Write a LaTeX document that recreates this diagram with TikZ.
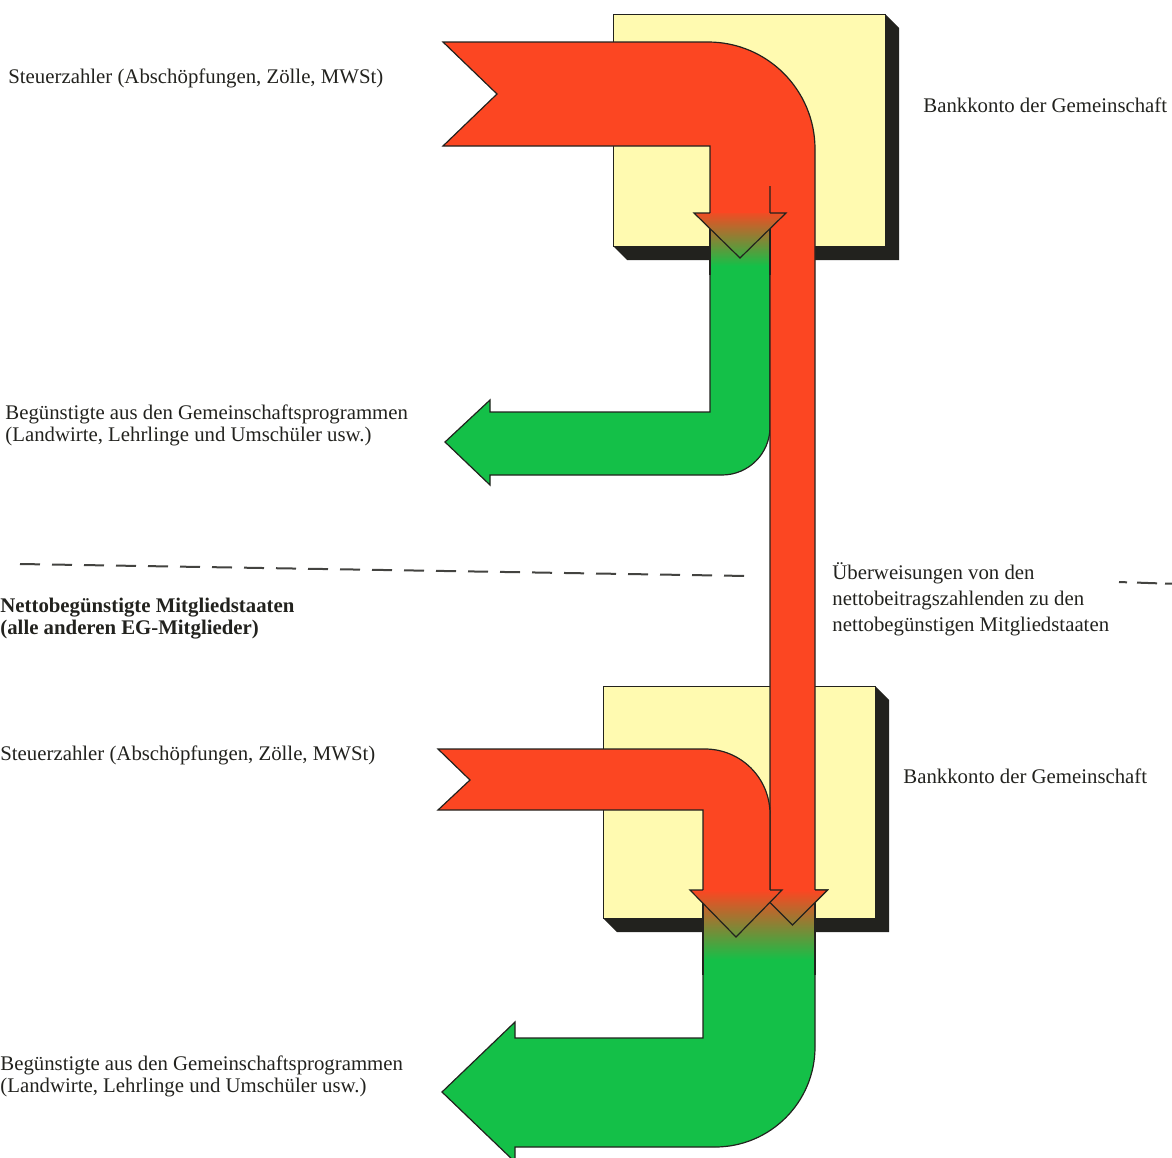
\documentclass[tikz,border=0pt]{standalone}
\usepackage{fontspec}
\setmainfont{Liberation Serif}
\usepackage{xcolor}
\definecolor{flowred}{RGB}{252,70,34}
\definecolor{flowgreen}{RGB}{20,192,72}
\definecolor{boxyellow}{RGB}{255,250,176}
\definecolor{fadegray}{RGB}{214,204,184}
\definecolor{inkdark}{RGB}{34,34,30}
\usepackage{tikz}
\usetikzlibrary{positioning}
\tikzset{fade/.style={
  top color=flowred, middle color=fadegray, bottom color=flowgreen
}}

\begin{document}
\begin{tikzpicture}[x=0.5pt, y=-0.5pt,
    outline/.style={draw=inkdark, line width=0.6pt, line join=miter},
    redflow/.style={fill=flowred},
    greenflow/.style={fill=flowgreen},
    bankbox/.style={fill=boxyellow, draw=inkdark, line width=0.5pt},
    boxshadow/.style={fill=inkdark},
    divider/.style={draw=inkdark!85, line width=1pt},
    caption/.style={font=\fontsize{10.4}{11}\selectfont, text=inkdark,
      inner sep=0pt, anchor=base west, align=left}]
    \def\shadowLen{14}
    \useasboundingbox (0,0) rectangle (1172,1157);
    \clip (0,0) rectangle (1172,1157);

    % bank accounts
    \fill [boxshadow] (613,246) -- +(\shadowLen,\shadowLen) -- %
    (885+\shadowLen,246+\shadowLen) -- (885+\shadowLen,14+\shadowLen) -- (885,14) -- cycle;
    \draw [bankbox] (613,14) rectangle (885,246);
    \fill [boxshadow] (603,918) -- +(\shadowLen,\shadowLen) -- %
    (875+\shadowLen,918+\shadowLen) -- (875+\shadowLen,686+\shadowLen) -- (875,686) -- cycle;
    \draw [bankbox] (603,686) rectangle (875,918);

    % outgoing flows
    \draw [greenflow, outline] (710,213) -- (710,412) -- (490,412) -- (490,400) -- %
    (445,442) -- (490,485) -- (490,475) -- (722,475) %
    arc [start angle=90, end angle=0, radius=48] -- (770,213) -- cycle;
    \draw [greenflow, outline] (703,890) -- (703,1038) -- (515,1038) -- (515,1022) -- %
    (442,1092) -- (515,1162) -- (515,1147) -- (715,1147) %
    arc [start angle=90, end angle=0, radius=100] -- (815,890) -- cycle;

    % incoming flows and the transfer
    \fill [redflow] (443,42) -- (708,42) arc [start angle=-90, end angle=0, radius=107] -- %
    (815,890) -- (827.5,890) -- (792.5,925) -- (757.5,890) -- (770,890) -- %
    (770,213) -- (710,213) -- (710,146) -- (443,146) -- (497,94) -- cycle;
    \draw [outline] (710,213) -- (710,146) -- (443,146) -- (497,94) -- (443,42) -- %
    (708,42) arc [start angle=-90, end angle=0, radius=107] -- (815,890) -- %
    (827.5,890) -- (792.5,925) -- (757.5,890) -- (770,890) -- (770,186);
    \fill [redflow] (438,749) -- (705,749) arc [start angle=-90, end angle=0, radius=65] -- %
    (770,890) -- (703,890) -- (703,810) -- (438,810) -- (470,780) -- cycle;
    \draw [outline] (703,890) -- (703,810) -- (438,810) -- (470,780) -- (438,749) -- %
    (705,749) arc [start angle=-90, end angle=0, radius=65] -- (770,890);

    % red turns into green
    \begin{scope}
      \clip (694,213) -- (786,213) -- (770,228.65) -- (770,275) -- (710,275) -- (710,228.65) -- cycle;
      \shade [fade] (690,210) rectangle (790,266);
    \end{scope}
    \draw [outline] (710,213) -- (694,213) -- (740,258) -- (786,213) -- (770,213);
    \draw [outline] (710,228.65) -- (710,275) (770,228.65) -- (770,275);

    \begin{scope}
      \clip (690,890) -- (827.5,890) -- (815,902.5) -- (815,975) -- (703,975) -- (703,903.3) -- cycle;
      \shade [fade] (685,890) rectangle (830,960);
    \end{scope}
    \draw [outline] (703,903.3) -- (703,975) (815,902.5) -- (815,975);
    \draw [outline] (815,890) -- (827.5,890) -- (792.5,925) -- %
    (intersection of 792.5,925--757.5,890 and 782,890--736,937);
    \draw [outline] (703,890) -- (690,890) -- (736,937) -- (782,890) -- (770,890);

    % dashed divider
    \foreach \i [evaluate={\xa=20+32*\i; \xb=\xa+20;
        \ya=564+(\xa-20)*12/728; \yb=564+(\xb-20)*12/728;}] in {0,...,22}
      \draw [divider] (\xa,\ya) -- (\xb,\yb);
    \draw [divider] (1119,582) -- (1127,582.3) (1137,582.6) -- (1157,583.3) (1165,583.5) -- (1172,583.7);

    % multi-line captions sit on their last line
    \node [caption] (payersTop) at (8,83) {Steuerzahler (Abschöpfungen, Zölle, MWSt)};
    \node [caption] (bankTop) at (923,112) {Bankkonto der Gemeinschaft};
    \node [caption] (benefitTop) at (5,441) %
    {Begünstigte aus den Gemeinschaftsprogrammen\\(Landwirte, Lehrlinge und Umschüler usw.)};
    \node [caption, font=\fontsize{10.4}{11}\selectfont\bfseries] (netStates) at (0,634) %
    {Nettobegünstigte Mitgliedstaaten\\(alle anderen EG-Mitglieder)};
    \node [caption, font=\fontsize{10.4}{13}\selectfont] (transfer) at (832,631) %
    {Überweisungen von den\\nettobeitragszahlenden zu den\\nettobegünstigen Mitgliedstaaten};
    \node [caption] (payersLow) at (0,760) {Steuerzahler (Abschöpfungen, Zölle, MWSt)};
    \node [caption] (bankLow) at (903,783) {Bankkonto der Gemeinschaft};
    \node [caption] (benefitLow) at (0,1092) %
    {Begünstigte aus den Gemeinschaftsprogrammen\\(Landwirte, Lehrlinge und Umschüler usw.)};
\end{tikzpicture}
\end{document}
